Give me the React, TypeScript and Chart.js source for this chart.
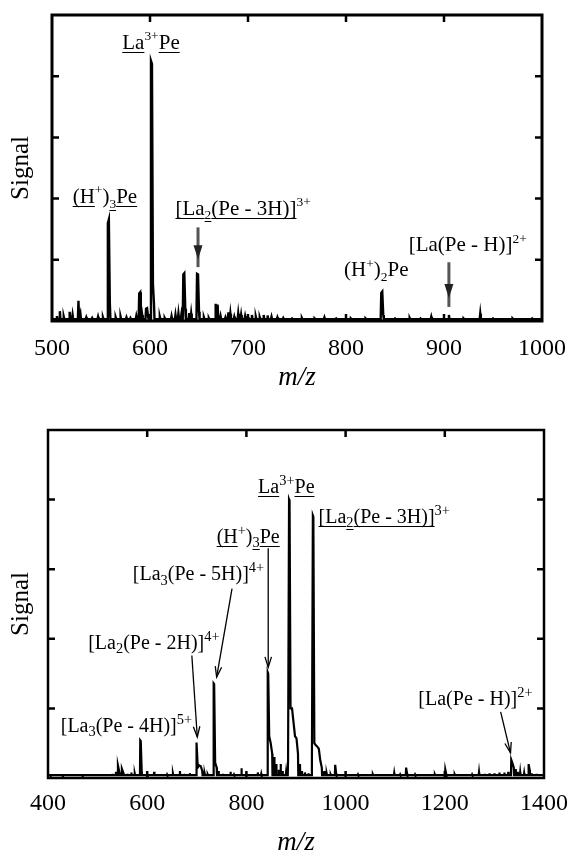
import React, { useEffect, useRef } from "react";
import { Chart, registerables } from "chart.js";

Chart.register(...registerables);

const FONT = "'Liberation Serif', 'Times New Roman', Times, serif";
const W = 579;

// ---------- data: upper spectrum (m/z 500-1000) ----------
const TOP_MZ = [
  505, 508, 512, 518, 521, 527, 529, 535, 541, 547, 552, 557, 558, 559, 565, 570, 576, 580, 586,
  589, 590, 592, 596, 597, 598, 601, 602, 603, 604, 610, 615, 622, 626, 629, 632, 634, 635, 636,
  640, 642, 648, 649, 650, 655, 660, 667, 669, 672, 677, 680, 682, 686, 690, 693, 697, 700, 704,
  708, 712, 716, 720, 724, 730, 736, 745, 755, 768, 778, 790, 805, 820, 836, 837, 838, 850, 865,
  876, 887, 905, 920, 937, 950, 970, 990,
];
const TOP_SIGNAL = [
  0.08, 0.16, 0.07, 0.15, 0.1, 0.33, 0.12, 0.06, 0.05, 0.07, 0.06, 1.6, 1.66, 0.3, 0.06, 0.07, 0.06, 0.05, 0.08,
  0.45, 0.47, 0.1, 0.2, 0.21, 0.08, 4.25, 4.2, 0.6, 0.3, 0.07, 0.05, 0.08, 0.1, 0.12, 0.1, 0.76, 0.78, 0.2,
  0.13, 0.12, 0.77, 0.76, 0.15, 0.06, 0.05, 0.28, 0.27, 0.08, 0.06, 0.14, 0.12, 0.07, 0.12, 0.1, 0.08, 0.06, 0.1,
  0.07, 0.06, 0.1, 0.09, 0.07, 0.06, 0.05, 0.04, 0.05, 0.04, 0.06, 0.04, 0.04, 0.04, 0.46, 0.48, 0.1, 0.04, 0.05,
  0.04, 0.07, 0.1, 0.04, 0.12, 0.04, 0.04, 0.04,
];
const TOP_X_RANGE = [500, 1000];
const TOP_X_STEP = 100;

// ---------- data: lower spectrum (m/z 400-1400) ----------
const BOTTOM_MZ = [
  405, 415, 430, 450, 470, 490, 510, 520, 530, 537, 541, 544, 549, 552, 560, 568, 575, 586, 587, 589,
  600, 614, 625, 640, 652, 666, 675, 686, 699, 700, 702, 705, 708, 711, 716, 722, 734, 735, 737, 740,
  744, 752, 760, 768, 775, 790, 800, 810, 823, 830, 843, 844, 846, 849, 852, 856, 860, 865, 869, 873,
  880, 884, 886, 887, 889, 892, 895, 898, 901, 904, 908, 912, 918, 925, 932, 934, 935, 937, 940, 943,
  946, 949, 952, 957, 962, 970, 979, 981, 990, 1000, 1010, 1025, 1040, 1055, 1070, 1085, 1098, 1110,
  1122, 1124, 1140, 1160, 1180, 1201, 1203, 1220, 1240, 1255, 1269, 1280, 1290, 1300, 1310, 1320, 1328,
  1334, 1336, 1339, 1343, 1347, 1352, 1360, 1369, 1371, 1375, 1385, 1395,
];
const BOTTOM_SIGNAL = [
  0.03, 0.04, 0.03, 0.04, 0.03, 0.04, 0.04, 0.05, 0.06, 0.09, 0.18, 0.08, 0.13, 0.07, 0.06, 0.08, 0.06, 0.54, 0.53, 0.08,
  0.05, 0.09, 0.05, 0.05, 0.06, 0.1, 0.06, 0.07, 0.51, 0.5, 0.15, 0.18, 0.17, 0.1, 0.06, 0.05, 1.36, 1.35, 0.22, 0.15,
  0.1, 0.06, 0.05, 0.09, 0.05, 0.14, 0.06, 0.05, 0.08, 0.06, 1.52, 1.5, 0.6, 0.5, 0.35, 0.3, 0.2, 0.12, 0.2, 0.1,
  0.08, 0.25, 4.0, 3.98, 1.0, 1.0, 0.8, 0.6, 0.57, 0.35, 0.2, 0.1, 0.08, 0.07, 0.1, 3.77, 3.75, 0.5, 0.47, 0.45,
  0.42, 0.25, 0.15, 0.1, 0.06, 0.05, 0.19, 0.06, 0.05, 0.06, 0.04, 0.05, 0.04, 0.05, 0.05, 0.04, 0.07, 0.05,
  0.15, 0.06, 0.05, 0.04, 0.05, 0.12, 0.05, 0.05, 0.05, 0.05, 0.08, 0.06, 0.07, 0.07, 0.08, 0.08, 0.09,
  0.26, 0.22, 0.15, 0.13, 0.09, 0.08, 0.07, 0.2, 0.12, 0.07, 0.06, 0.05,
];
const BOTTOM_X_RANGE = [400, 1400];
const BOTTOM_X_STEP = 200;

const Y_RANGE = [0, 5];

// ---------- annotations (in data coordinates) ----------
type Seg = { t: string; k?: "sup" | "sub"; u?: boolean };
type Note = { segs: Seg[]; mz: number; level: number; anchor: "left" | "center" };
type Pointer = { mz1: number; lv1: number; mz2: number; lv2: number; heavy?: boolean };

const TOP_NOTES: Note[] = [
  { segs: [{ t: "La", u: true }, { t: "3+", k: "sup" }, { t: "Pe", u: true }], mz: 601, level: 4.45, anchor: "center" },
  {
    segs: [{ t: "(H", u: true }, { t: "+", k: "sup" }, { t: ")" }, { t: "3", k: "sub", u: true }, { t: "Pe", u: true }],
    mz: 554, level: 1.93, anchor: "center",
  },
  {
    segs: [{ t: "[La", u: true }, { t: "2", k: "sub", u: true }, { t: "(Pe - 3H)]", u: true }, { t: "3+", k: "sup" }],
    mz: 626, level: 1.74, anchor: "left",
  },
  { segs: [{ t: "(H" }, { t: "+", k: "sup" }, { t: ")" }, { t: "2", k: "sub" }, { t: "Pe" }], mz: 798, level: 0.73, anchor: "left" },
  { segs: [{ t: "[La(Pe - H)]" }, { t: "2+", k: "sup" }], mz: 864, level: 1.14, anchor: "left" },
];
const TOP_POINTERS: Pointer[] = [
  { mz1: 649, lv1: 1.53, mz2: 649, lv2: 0.88, heavy: true },
  { mz1: 905, lv1: 0.96, mz2: 905, lv2: 0.23, heavy: true },
];

const BOTTOM_NOTES: Note[] = [
  { segs: [{ t: "La", u: true }, { t: "3+", k: "sup" }, { t: "Pe", u: true }], mz: 823.6, level: 4.1, anchor: "left" },
  {
    segs: [{ t: "[La", u: true }, { t: "2", k: "sub", u: true }, { t: "(Pe - 3H)]", u: true }, { t: "3+", k: "sup" }],
    mz: 945.5, level: 3.67, anchor: "left",
  },
  {
    segs: [{ t: "(H", u: true }, { t: "+", k: "sup" }, { t: ")" }, { t: "3", k: "sub", u: true }, { t: "Pe", u: true }],
    mz: 740, level: 3.38, anchor: "left",
  },
  { segs: [{ t: "[La" }, { t: "3", k: "sub" }, { t: "(Pe - 5H)]" }, { t: "4+", k: "sup" }], mz: 571, level: 2.84, anchor: "left" },
  { segs: [{ t: "[La" }, { t: "2", k: "sub" }, { t: "(Pe - 2H)]" }, { t: "4+", k: "sup" }], mz: 481, level: 1.86, anchor: "left" },
  { segs: [{ t: "[La" }, { t: "3", k: "sub" }, { t: "(Pe - 4H)]" }, { t: "5+", k: "sup" }], mz: 425.7, level: 0.66, anchor: "left" },
  { segs: [{ t: "[La(Pe - H)]" }, { t: "2+", k: "sup" }], mz: 1146.7, level: 1.05, anchor: "left" },
];
const BOTTOM_POINTERS: Pointer[] = [
  { mz1: 844, lv1: 3.3, mz2: 844, lv2: 1.59 },
  { mz1: 771, lv1: 2.72, mz2: 740, lv2: 1.45 },
  { mz1: 690, lv1: 1.76, mz2: 701, lv2: 0.59 },
  { mz1: 1312.6, lv1: 0.95, mz2: 1332.5, lv2: 0.36 },
];

// ---------- helpers ----------
function buildTrace(mz: number[], sig: number[], xr: number[], base: number, join: number) {
  const pts: { x: number; y: number }[] = [{ x: xr[0], y: base }];
  for (let i = 0; i < mz.length; i++) {
    const prevGap = i > 0 ? mz[i] - mz[i - 1] : Infinity;
    const nextGap = i < mz.length - 1 ? mz[i + 1] - mz[i] : Infinity;
    if (prevGap > join) pts.push({ x: mz[i] - 0.6, y: base });
    pts.push({ x: mz[i], y: sig[i] });
    if (nextGap > join) pts.push({ x: mz[i] + 0.6, y: base });
  }
  pts.push({ x: xr[1], y: base });
  return pts;
}

type Box = { left: number; right: number; top: number; bottom: number };
type Panel = {
  top: number;
  height: number;
  box: Box;
  mz: number[];
  sig: number[];
  xr: number[];
  step: number;
  base: number;
  join: number;
  notes: Note[];
  pointers: Pointer[];
  tickSize: number;
  tickPad: number;
  titlePad: number;
  noteSize: number;
  supScale: number;
  frameWidth: number;
  traceWidth: number;
};

function drawRich(
  ctx: CanvasRenderingContext2D,
  segs: Seg[],
  x0: number,
  y: number,
  size: number,
  supScale: number,
  anchor: string
) {
  const widths = segs.map((s) => {
    const fs = s.k ? size * supScale : size;
    ctx.font = `${fs}px ${FONT}`;
    return ctx.measureText(s.t).width;
  });
  const total = widths.reduce((a, b) => a + b, 0);
  let x = anchor === "center" ? x0 - total / 2 : x0;
  ctx.textBaseline = "alphabetic";
  ctx.textAlign = "left";
  segs.forEach((s, i) => {
    const fs = s.k ? size * supScale : size;
    const dy = s.k === "sup" ? -size * 0.4 : s.k === "sub" ? size * 0.22 : 0;
    ctx.font = `${fs}px ${FONT}`;
    ctx.fillStyle = "#000";
    ctx.fillText(s.t, x, y + dy);
    if (s.u) {
      ctx.lineWidth = 1;
      ctx.strokeStyle = "#000";
      const uy = Math.round(y + (s.k === "sub" ? dy + 2 : 3)) + 0.5;
      ctx.beginPath();
      ctx.moveTo(x, uy);
      ctx.lineTo(x + widths[i], uy);
      ctx.stroke();
    }
    x += widths[i];
  });
}

function drawPointer(ctx: CanvasRenderingContext2D, x1: number, y1: number, x2: number, y2: number, heavy?: boolean) {
  const ang = Math.atan2(y2 - y1, x2 - x1);
  ctx.save();
  if (heavy) {
    ctx.strokeStyle = "#555";
    ctx.lineWidth = 3;
    ctx.beginPath();
    ctx.moveTo(x1, y1);
    ctx.lineTo(x2, y2);
    ctx.stroke();
    const tx = x1 + (x2 - x1) * 0.8;
    const ty = y1 + (y2 - y1) * 0.8;
    const len = 14;
    const half = 4.5;
    ctx.fillStyle = "#222";
    ctx.beginPath();
    ctx.moveTo(tx, ty);
    ctx.lineTo(tx - len * Math.cos(ang) + half * Math.sin(ang), ty - len * Math.sin(ang) - half * Math.cos(ang));
    ctx.lineTo(tx - len * Math.cos(ang) - half * Math.sin(ang), ty - len * Math.sin(ang) + half * Math.cos(ang));
    ctx.closePath();
    ctx.fill();
  } else {
    ctx.strokeStyle = "#000";
    ctx.lineWidth = 1.3;
    ctx.beginPath();
    ctx.moveTo(x1, y1);
    ctx.lineTo(x2, y2);
    ctx.stroke();
    const len = 11;
    const spread = 0.3;
    ctx.beginPath();
    ctx.moveTo(x2 - len * Math.cos(ang - spread), y2 - len * Math.sin(ang - spread));
    ctx.lineTo(x2, y2);
    ctx.lineTo(x2 - len * Math.cos(ang + spread), y2 - len * Math.sin(ang + spread));
    ctx.stroke();
  }
  ctx.restore();
}

function SpectrumPanel({ p }: { p: Panel }) {
  const ref = useRef<HTMLCanvasElement>(null);
  useEffect(() => {
    const canvas = ref.current;
    if (!canvas) return;
    const decor = {
      id: "decor",
      afterDraw(chart: any) {
        const ctx: CanvasRenderingContext2D = chart.ctx;
        const ca = chart.chartArea;
        const xs = chart.scales.x;
        const ys = chart.scales.y;
        ctx.save();
        ctx.strokeStyle = "#000";
        ctx.lineWidth = p.frameWidth;
        ctx.strokeRect(ca.left, ca.top, ca.right - ca.left, ca.bottom - ca.top);
        ctx.lineWidth = 2.5;
        const tl = 7;
        ctx.beginPath();
        xs.ticks.forEach((t: any) => {
          if (t.value <= p.xr[0] || t.value >= p.xr[1]) return;
          const px = xs.getPixelForValue(t.value);
          ctx.moveTo(px, ca.bottom);
          ctx.lineTo(px, ca.bottom - tl);
          ctx.moveTo(px, ca.top);
          ctx.lineTo(px, ca.top + tl);
        });
        ys.ticks.forEach((t: any) => {
          if (t.value <= Y_RANGE[0] || t.value >= Y_RANGE[1]) return;
          const py = ys.getPixelForValue(t.value);
          ctx.moveTo(ca.left, py);
          ctx.lineTo(ca.left + tl, py);
          ctx.moveTo(ca.right, py);
          ctx.lineTo(ca.right - tl, py);
        });
        ctx.stroke();
        p.notes.forEach((n) => {
          drawRich(ctx, n.segs, xs.getPixelForValue(n.mz), ys.getPixelForValue(n.level), p.noteSize, p.supScale, n.anchor);
        });
        p.pointers.forEach((a) => {
          drawPointer(
            ctx,
            xs.getPixelForValue(a.mz1),
            ys.getPixelForValue(a.lv1),
            xs.getPixelForValue(a.mz2),
            ys.getPixelForValue(a.lv2),
            a.heavy
          );
        });
        ctx.restore();
      },
    };
    const chart = new Chart(canvas, {
      type: "line",
      data: {
        datasets: [
          {
            data: buildTrace(p.mz, p.sig, p.xr, p.base, p.join),
            borderColor: "#000",
            borderWidth: p.traceWidth,
            borderJoinStyle: "miter",
            pointRadius: 0,
            tension: 0,
            fill: false,
          },
        ],
      },
      options: {
        animation: false,
        responsive: false,
        maintainAspectRatio: false,
        layout: { padding: { top: p.box.top, right: W - p.box.right, left: 0, bottom: 0 } },
        plugins: { legend: { display: false }, tooltip: { enabled: false } },
        scales: {
          x: {
            type: "linear",
            min: p.xr[0],
            max: p.xr[1],
            ticks: {
              stepSize: p.step,
              color: "#000",
              font: { family: FONT, size: p.tickSize },
              padding: p.tickPad,
              maxRotation: 0,
              autoSkip: false,
              callback: (v: any) => String(v),
            },
            grid: { display: false, drawTicks: false },
            border: { display: false },
            title: {
              display: true,
              text: "m/z",
              color: "#000",
              font: { family: FONT, size: 27, style: "italic", lineHeight: 1 },
              padding: { top: 0, bottom: p.titlePad },
            },
            afterFit: (s: any) => {
              s.height = p.height - p.box.bottom;
            },
          },
          y: {
            min: Y_RANGE[0],
            max: Y_RANGE[1],
            ticks: { display: false, stepSize: 1 },
            grid: { display: false, drawTicks: false },
            border: { display: false },
            title: {
              display: true,
              text: "Signal",
              color: "#000",
              font: { family: FONT, size: 25, lineHeight: 1 },
              padding: { top: 9, bottom: 0 },
            },
            afterFit: (s: any) => {
              s.width = p.box.left;
            },
          },
        },
      } as any,
      plugins: [decor],
    });
    return () => chart.destroy();
  }, []);
  return (
    <canvas
      ref={ref}
      width={W}
      height={p.height}
      style={{ position: "absolute", left: 0, top: p.top, width: W, height: p.height, display: "block" }}
    />
  );
}

const TOP_PANEL: Panel = {
  top: 0,
  height: 400,
  box: { left: 52, right: 555, top: 15, bottom: 321 },
  mz: TOP_MZ,
  sig: TOP_SIGNAL,
  xr: TOP_X_RANGE,
  step: TOP_X_STEP,
  base: 0.03,
  join: 1.5,
  notes: TOP_NOTES,
  pointers: TOP_POINTERS,
  tickSize: 24,
  tickPad: 13,
  titlePad: 8.5,
  noteSize: 21,
  supScale: 0.64,
  frameWidth: 3,
  traceWidth: 2.4,
};

const BOTTOM_PANEL: Panel = {
  top: 420,
  height: 434,
  box: { left: 48, right: 552, top: 10, bottom: 358 },
  mz: BOTTOM_MZ,
  sig: BOTTOM_SIGNAL,
  xr: BOTTOM_X_RANGE,
  step: BOTTOM_X_STEP,
  base: 0.04,
  join: 3.5,
  notes: BOTTOM_NOTES,
  pointers: BOTTOM_POINTERS,
  tickSize: 24,
  tickPad: 11,
  titlePad: -2.5,
  noteSize: 20,
  supScale: 0.72,
  frameWidth: 2.5,
  traceWidth: 2.2,
};

export default function App() {
  return (
    <div style={{ position: "absolute", left: 0, top: 0, width: W, height: 854, background: "#fff", overflow: "hidden" }}>
      <SpectrumPanel p={TOP_PANEL} />
      <SpectrumPanel p={BOTTOM_PANEL} />
    </div>
  );
}
